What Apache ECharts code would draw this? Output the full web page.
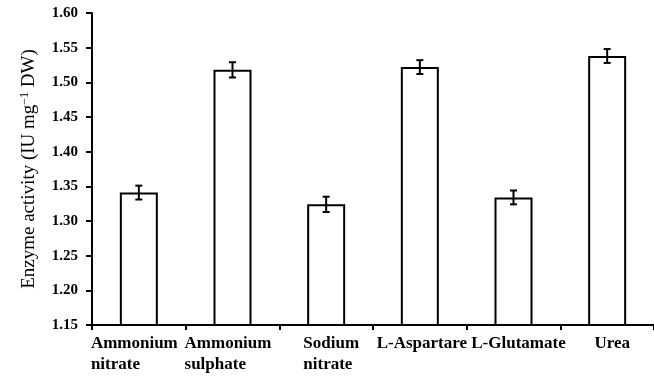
<!DOCTYPE html>
<html>
<head>
<meta charset="utf-8">
<script src="https://cdn.jsdelivr.net/npm/echarts@6/dist/echarts.min.js"></script>
<style>
html,body{margin:0;padding:0;background:#fff;}
#c{width:654px;height:379px;}
</style>
</head>
<body>
<div id="c"></div>
<script>
var categories = ['Ammonium\nnitrate', 'Ammonium\nsulphate', 'Sodium\nnitrate', 'L-Aspartare', 'L-Glutamate', 'Urea'];
var values = [1.341, 1.518, 1.324, 1.522, 1.334, 1.538];
var errors = [0.010, 0.011, 0.011, 0.010, 0.010, 0.010];
var yTicks = { min: 1.15, max: 1.60, interval: 0.05 };

var FONT = '"Liberation Serif", "Times New Roman", serif';
var labelTags = ['n', 'n', 'p', 'q', 'p', 'p'];
function labelStyle(extra) {
  var s = { align: 'left', fontFamily: FONT, fontSize: 17, fontWeight: 'bold', color: '#000', lineHeight: 21 };
  for (var k in extra) s[k] = extra[k];
  return s;
}
var chart = echarts.init(document.getElementById('c'), null, {renderer: 'canvas'});
chart.setOption({
  animation: false,
  backgroundColor: '#fff',
  grid: { left: 92, top: 13, bottom: 54, width: 568, containLabel: false },
  xAxis: {
    type: 'category',
    data: categories,
    axisLine: { lineStyle: { color: '#000', width: 2 } },
    axisTick: { show: true, length: 5, lineStyle: { color: '#000', width: 2 } },
    axisLabel: {
      color: '#000', fontFamily: FONT, fontSize: 17, fontWeight: 'bold', margin: 8,
      interval: 0, lineHeight: 21,
      formatter: function (value, index) {
        var tag = labelTags[index];
        return value.split('\n').map(function (l) { return '{' + tag + '|' + l + '}'; }).join('\n');
      },
      rich: {
        n: labelStyle({ padding: [0, 9, 0, 0] }),
        p: labelStyle({ padding: [0, 0, 0, 10] }),
        q: labelStyle({ padding: [0, 0, 0, 4] })
      }
    }
  },
  yAxis: {
    type: 'value',
    min: yTicks.min, max: yTicks.max, interval: yTicks.interval,
    name: 'Enzyme activity (IU mg{sup|−1} DW)',
    nameLocation: 'middle',
    nameRotate: 90,
    nameGap: 52,
    nameTextStyle: {
      color: '#000', fontFamily: FONT, fontSize: 19,
      rich: { sup: { fontFamily: FONT, fontSize: 12, color: '#000', verticalAlign: 'top', padding: [0, 0, 9, 0] } }
    },
    splitLine: { show: false },
    axisLine: { show: true, lineStyle: { color: '#000', width: 2 } },
    axisTick: { show: true, length: 6, lineStyle: { color: '#000', width: 2 } },
    axisLabel: {
      color: '#000', fontFamily: FONT, fontSize: 15, fontWeight: 'bold', margin: 14,
      formatter: function (v) { return v.toFixed(2); }
    }
  },
  series: [
    {
      type: 'bar',
      data: values,
      barWidth: 38,
      itemStyle: { color: '#fff', borderColor: '#000', borderWidth: 2 }
    },
    {
      type: 'custom',
      data: values.map(function (v, i) { return [i, v - errors[i], v + errors[i]]; }),
      renderItem: function (params, api) {
        var lo = api.coord([api.value(0), api.value(1)]);
        var hi = api.coord([api.value(0), api.value(2)]);
        var x = lo[0], hw = 3.5;
        var st = { stroke: '#000', lineWidth: 2 };
        return {
          type: 'group',
          children: [
            { type: 'line', shape: { x1: x, y1: lo[1], x2: x, y2: hi[1] }, style: st },
            { type: 'line', shape: { x1: x - hw, y1: lo[1], x2: x + hw, y2: lo[1] }, style: st },
            { type: 'line', shape: { x1: x - hw, y1: hi[1], x2: x + hw, y2: hi[1] }, style: st }
          ]
        };
      },
      z: 5
    }
  ]
});
</script>
</body>
</html>
